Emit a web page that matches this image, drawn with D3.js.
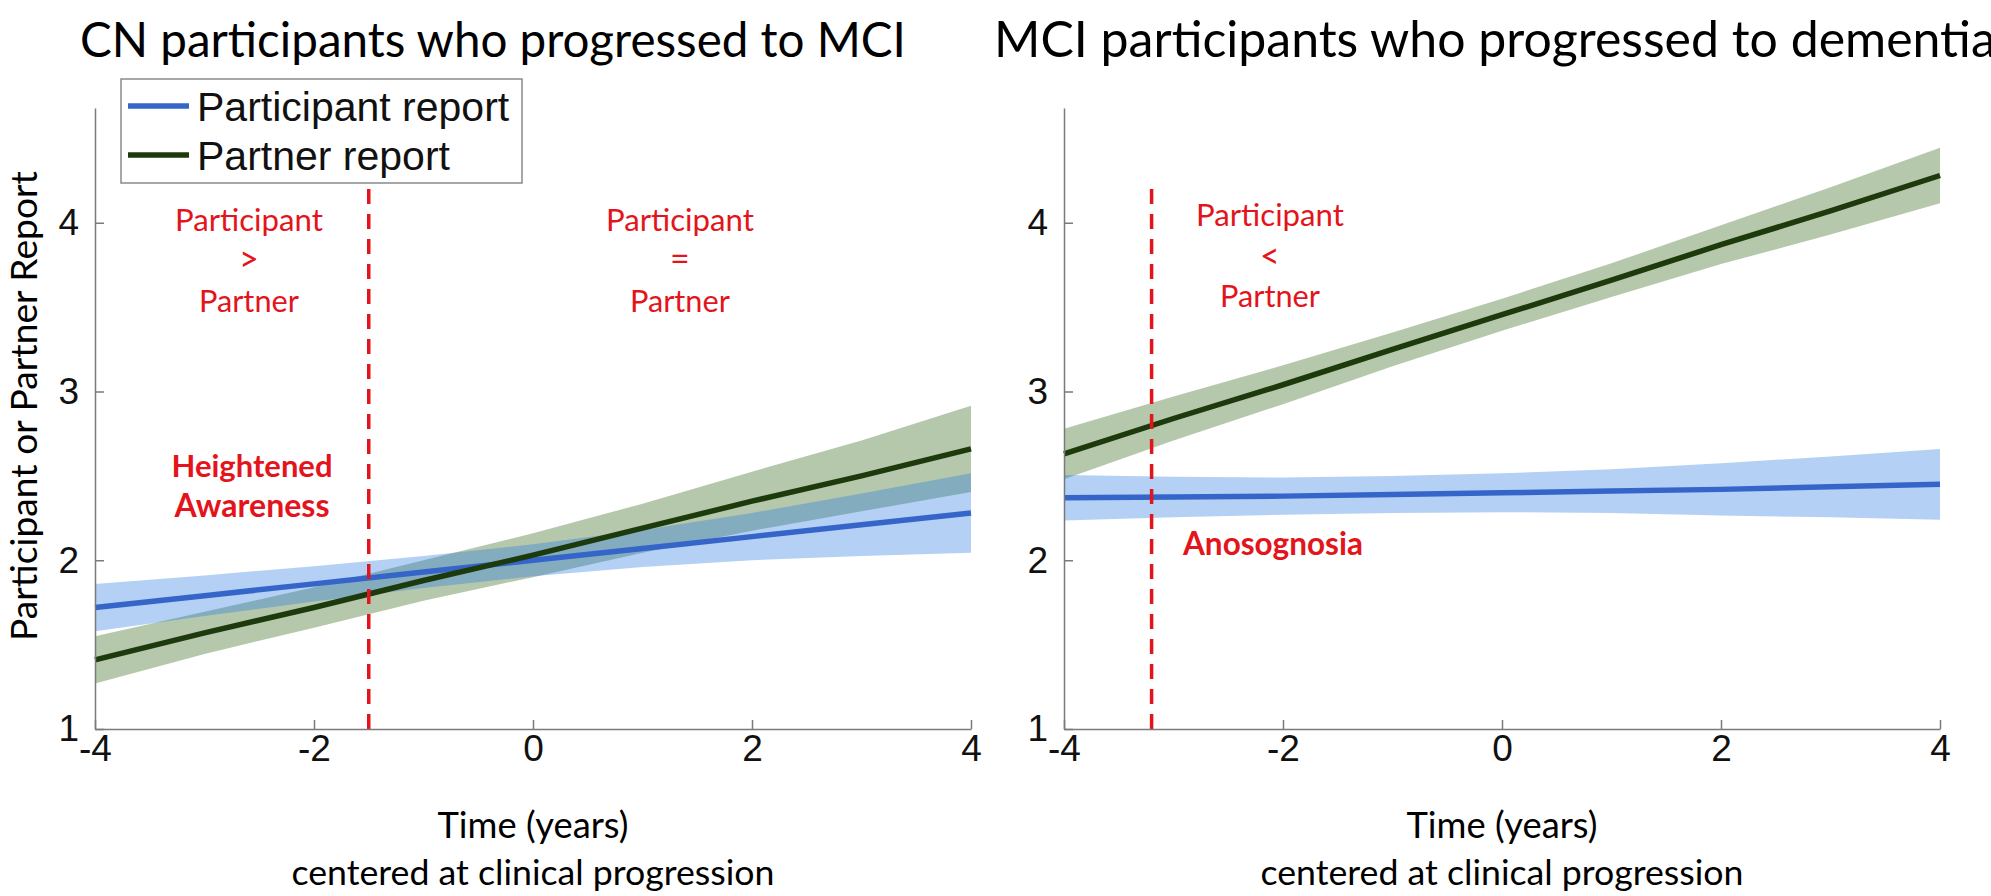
<!DOCTYPE html>
<html>
<head>
<meta charset="utf-8">
<script src="https://cdn.jsdelivr.net/npm/d3@7"></script>
<style>
  body { margin: 0; background: #fff; }
  svg { display: block; }
</style>
</head>
<body>
<div id="chart"></div>
<script>
// Time axis (years, centered at clinical progression)
const years = [-4, -3, -2, -1, 0, 1, 2, 3, 4];
const xTicks = [-4, -2, 0, 2, 4];
const yTicks = [1, 2, 3, 4];

// Left panel: CN participants who progressed to MCI
const cnParticipantMean = [1.72, 1.79, 1.86, 1.93, 2.00, 2.07, 2.14, 2.21, 2.28];
const cnParticipantLow  = [1.58, 1.67, 1.755, 1.835, 1.905, 1.96, 2.00, 2.025, 2.045];
const cnParticipantHigh = [1.86, 1.91, 1.965, 2.025, 2.095, 2.18, 2.28, 2.395, 2.515];
const cnPartnerMean = [1.41, 1.57, 1.72, 1.88, 2.03, 2.19, 2.35, 2.50, 2.66];
const cnPartnerLow  = [1.27, 1.445, 1.60, 1.76, 1.90, 2.045, 2.175, 2.29, 2.405];
const cnPartnerHigh = [1.55, 1.695, 1.84, 2.00, 2.16, 2.335, 2.525, 2.71, 2.915];
const cnCrossover = -1.5;

// Right panel: MCI participants who progressed to dementia
const mciParticipantMean = [2.37, 2.375, 2.38, 2.39, 2.40, 2.41, 2.42, 2.435, 2.45];
const mciParticipantLow  = [2.235, 2.255, 2.27, 2.28, 2.285, 2.28, 2.265, 2.255, 2.24];
const mciParticipantHigh = [2.505, 2.495, 2.49, 2.50, 2.515, 2.54, 2.575, 2.615, 2.66];
const mciPartnerMean = [2.63, 2.84, 3.04, 3.25, 3.455, 3.66, 3.87, 4.07, 4.28];
const mciPartnerLow  = [2.48, 2.71, 2.925, 3.15, 3.36, 3.56, 3.755, 3.93, 4.115];
const mciPartnerHigh = [2.78, 2.97, 3.155, 3.35, 3.55, 3.76, 3.985, 4.21, 4.445];
const mciCrossover = -3.2;

const seriesNames = ["Participant report", "Partner report"];

const width = 1991;
const height = 896;
const panelW = 876;
const plotTop = 108, plotBottom = 729;

const blueLine = "#3565c9", blueFill = "rgb(41,121,226)";
const greenLine = "#1c3a0b", greenFill = "rgb(51,102,26)";
const red = "#e3141b";
const calibriLike = "Lato, 'Open Sans', sans-serif";
const arialLike = "'Liberation Sans', Arial, sans-serif";

const svg = d3.select("#chart").append("svg")
  .attr("width", width)
  .attr("height", height);

// scale a text's font size so it spans the given width
function fitText(sel, w) {
  const cur = sel.node().getComputedTextLength();
  const fs = parseFloat(sel.attr("font-size"));
  sel.attr("font-size", fs * w / cur);
  return fs * w / cur;
}

const y = d3.scaleLinear().domain([1, 4.68]).range([plotBottom, plotTop]);

function drawPanel(left, d) {
  const x = d3.scaleLinear().domain([-4, 4]).range([0, panelW]);
  const g = svg.append("g").attr("transform", "translate(" + left + ",0)");

  const area = (lo, hi) => d3.area()
    .x((v, i) => x(years[i]))
    .y0((v, i) => y(lo[i]))
    .y1((v, i) => y(hi[i]))(years);
  const line = vals => d3.line()
    .x((v, i) => x(years[i]))
    .y(v => y(v))(vals);

  // confidence bands
  g.append("path").attr("d", area(d.partnerLow, d.partnerHigh))
    .attr("fill", greenFill).attr("fill-opacity", 0.36);
  g.append("path").attr("d", area(d.partLow, d.partHigh))
    .attr("fill", blueFill).attr("fill-opacity", 0.35);

  // fitted lines
  g.append("path").attr("d", line(d.partMean))
    .attr("fill", "none").attr("stroke", blueLine).attr("stroke-width", 5.5);
  g.append("path").attr("d", line(d.partnerMean))
    .attr("fill", "none").attr("stroke", greenLine).attr("stroke-width", 5.5);

  // crossover marker
  g.append("line")
    .attr("x1", x(d.cross)).attr("x2", x(d.cross))
    .attr("y1", y(4.2)).attr("y2", plotBottom)
    .attr("stroke", red).attr("stroke-width", 3.5)
    .attr("stroke-dasharray", "15,10");

  // axes
  const xAxis = g.append("g")
    .attr("transform", "translate(0," + plotBottom + ")")
    .call(d3.axisBottom(x).tickValues(xTicks).tickSizeInner(-9).tickSizeOuter(0).tickPadding(6)
      .tickFormat(v => v < 0 ? "-" + Math.abs(v) : String(v)));
  const yAxis = g.append("g")
    .call(d3.axisLeft(y).tickValues(yTicks).tickSizeInner(-9).tickSizeOuter(0).tickPadding(16)
      .tickFormat(d3.format("d")));

  [xAxis, yAxis].forEach(a => {
    a.select(".domain").attr("stroke", "#7a7a7a").attr("stroke-width", 1.5);
    a.selectAll(".tick line").attr("stroke", "#7a7a7a").attr("stroke-width", 1.5);
    a.selectAll("text").attr("font-family", arialLike).attr("font-size", 37).attr("fill", "#111");
  });

  // axis titles
  const t1 = g.append("text").attr("x", panelW / 2).attr("y", 838)
    .attr("text-anchor", "middle").attr("font-family", calibriLike).attr("font-size", 36)
    .text("Time (years)");
  fitText(t1, 191);
  const t2 = g.append("text").attr("x", panelW / 2).attr("y", 885)
    .attr("text-anchor", "middle").attr("font-family", calibriLike).attr("font-size", 36)
    .text("centered at clinical progression");
  fitText(t2, 483);

  return { g, x };
}

const leftPanel = drawPanel(95, {
  partMean: cnParticipantMean, partLow: cnParticipantLow, partHigh: cnParticipantHigh,
  partnerMean: cnPartnerMean, partnerLow: cnPartnerLow, partnerHigh: cnPartnerHigh,
  cross: cnCrossover
});
const rightPanel = drawPanel(1064, {
  partMean: mciParticipantMean, partLow: mciParticipantLow, partHigh: mciParticipantHigh,
  partnerMean: mciPartnerMean, partnerLow: mciPartnerLow, partnerHigh: mciPartnerHigh,
  cross: mciCrossover
});

// titles (the right one runs off the edge, as in the original figure)
const title1 = svg.append("text").attr("x", 80).attr("y", 57)
  .attr("font-family", calibriLike).attr("font-size", 46)
  .text("CN participants who progressed to MCI");
fitText(title1, 826);
const title2 = svg.append("text").attr("x", 994).attr("y", 57)
  .attr("font-family", calibriLike).attr("font-size", 46)
  .text("MCI participants who progressed to dementia");
fitText(title2, 1002);

// y label
const yl = svg.append("text")
  .attr("transform", "translate(37,406) rotate(-90)")
  .attr("text-anchor", "middle")
  .attr("font-family", calibriLike).attr("font-size", 38)
  .text("Participant or Partner Report");
fitText(yl, 470);

// legend
const legend = svg.append("g");
legend.append("rect").attr("x", 121).attr("y", 79).attr("width", 401).attr("height", 104)
  .attr("fill", "#fff").attr("stroke", "#8a8a8a").attr("stroke-width", 1.5);
[blueLine, greenLine].forEach((c, i) => {
  const ly = 106 + i * 49;
  legend.append("line").attr("x1", 128).attr("x2", 189).attr("y1", ly).attr("y2", ly)
    .attr("stroke", c).attr("stroke-width", 5.5);
  legend.append("text").attr("x", 197).attr("y", ly).attr("dy", "0.36em")
    .attr("font-family", arialLike).attr("font-size", 41).attr("fill", "#111")
    .text(seriesNames[i]);
});

// annotations
function stack(panel, cx, baselines, lines, opts) {
  lines.forEach((s, i) => {
    const sym = s.length === 1;
    const t = panel.g.append("text")
      .attr("x", panel.x(cx)).attr("y", y(baselines[i]))
      .attr("text-anchor", opts.anchor || "middle")
      .attr("font-family", calibriLike).attr("font-size", sym ? 34 : opts.size)
      .attr("font-weight", opts.bold ? 700 : 400)
      .attr("fill", red).text(s);
    if (opts.widths && opts.widths[i]) fitText(t, opts.widths[i]);
  });
}

stack(leftPanel, -2.594, [3.952, 3.715, 3.472], ["Participant", ">", "Partner"],
  { size: 31, widths: [148, null, 100] });
stack(leftPanel, 1.342, [3.952, 3.715, 3.472], ["Participant", "=", "Partner"],
  { size: 31, widths: [148, null, 100] });
stack(leftPanel, -2.566, [2.494, 2.257], ["Heightened", "Awareness"],
  { size: 31, bold: true, widths: [161, 155] });
stack(rightPanel, -2.119, [3.982, 3.733, 3.501], ["Participant", "<", "Partner"],
  { size: 31, widths: [148, null, 100] });
stack(rightPanel, -2.913, [2.031], ["Anosognosia"],
  { size: 31, bold: true, anchor: "start", widths: [180] });
</script>
</body>
</html>
